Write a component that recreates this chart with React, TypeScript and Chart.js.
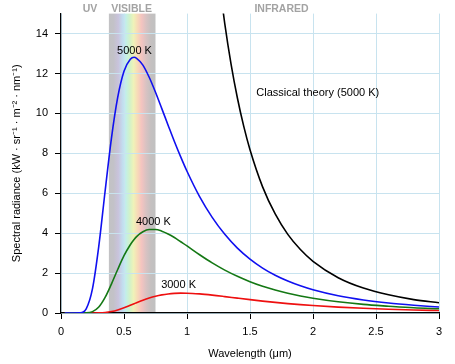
import React, { useEffect, useRef } from "react";
import { Chart, registerables } from "chart.js";

Chart.register(...registerables);

// Wavelength samples (µm) shared by the three black-body curves
const WAVELENGTHS = [
  0.03, 0.05, 0.1, 0.15, 0.2, 0.25, 0.3, 0.35, 0.4, 0.45, 0.5, 0.55, 0.58, 0.6,
  0.65, 0.7, 0.75, 0.8, 0.85, 0.9, 0.95, 1.0, 1.1, 1.2, 1.3, 1.4, 1.5, 1.6, 1.7,
  1.8, 1.9, 2.0, 2.2, 2.4, 2.6, 2.8, 3.0,
];

// Spectral radiance (kW · sr⁻¹ · m⁻² · nm⁻¹)
const RADIANCE_5000K = [
  0, 0, 0, 0.007, 0.21, 1.22, 3.35, 6.1, 8.74, 10.8, 12.11, 12.71, 12.81, 12.76,
  12.42, 11.81, 11.06, 10.24, 9.41, 8.59, 7.82, 7.1, 5.83, 4.79, 3.94, 3.25, 2.7,
  2.25, 1.89, 1.6, 1.36, 1.16, 0.86, 0.65, 0.5, 0.39, 0.3,
];
const RADIANCE_4000K = [
  0, 0, 0, 0, 0.006, 0.069, 0.3, 0.78, 1.45, 2.18, 2.87, 3.42, 3.68, 3.83, 4.07,
  4.18, 4.18, 4.1, 3.96, 3.78, 3.57, 3.36, 2.92, 2.51, 2.15, 1.84, 1.57, 1.34,
  1.15, 0.99, 0.85, 0.74, 0.56, 0.43, 0.34, 0.26, 0.21,
];
const RADIANCE_3000K = [
  0, 0, 0, 0, 0, 0.0006, 0.0056, 0.025, 0.072, 0.152, 0.26, 0.387, 0.465, 0.517,
  0.642, 0.751, 0.84, 0.908, 0.955, 0.983, 0.994, 0.992, 0.957, 0.896, 0.822,
  0.744, 0.668, 0.597, 0.531, 0.472, 0.419, 0.372, 0.295, 0.235, 0.188, 0.152,
  0.124,
];

// Classical (Rayleigh–Jeans) theory at 5000 K
const CLASSICAL_WAVELENGTHS = [
  1.25, 1.3, 1.35, 1.4, 1.45, 1.5, 1.6, 1.7, 1.8, 1.9, 2.0, 2.2, 2.4, 2.6, 2.8, 3.0,
];
const CLASSICAL_5000K = [
  16.95, 14.49, 12.46, 10.77, 9.36, 8.18, 6.32, 4.96, 3.94, 3.18, 2.59, 1.77,
  1.25, 0.91, 0.67, 0.51,
];

const X_TICKS = [0, 0.5, 1, 1.5, 2, 2.5, 3];
const X_TICK_LABELS = ["0", "0.5", "1", "1.5", "2", "2.5", "3"];
const Y_TICKS = [0, 2, 4, 6, 8, 10, 12, 14];
const Y_TICK_LABELS = ["0", "2", "4", "6", "8", "10", "12", "14"];

const VISIBLE_RANGE = [0.38, 0.75];

const REGION_NAMES = ["UV", "VISIBLE", "INFRARED"];
const REGION_LABEL_X = [0.23, 0.56, 1.75];

const CURVE_LABELS = ["5000 K", "4000 K", "3000 K", "Classical theory (5000 K)"];
const CURVE_LABEL_X = [0.583, 0.733, 0.933, 1.55];
const CURVE_LABEL_Y = [13.15, 4.55, 1.4, 11.03];
const CURVE_LABEL_ALIGN = ["center", "center", "center", "left"];

const FONT = "'Liberation Sans', Arial, sans-serif";

const toPoints = (xs: number[], ys: number[]) => xs.map((x, i) => ({ x, y: ys[i] }));

const decorPlugin = {
  id: "decor",
  beforeDraw(chart: any) {
    const { ctx, chartArea, scales } = chart;
    const x0 = scales.x.getPixelForValue(VISIBLE_RANGE[0]);
    const x1 = scales.x.getPixelForValue(VISIBLE_RANGE[1]);
    const g = ctx.createLinearGradient(x0, 0, x1, 0);
    g.addColorStop(0, "#c2c2c4");
    g.addColorStop(0.1, "#c3c2c8");
    g.addColorStop(0.2, "#c9c3dc");
    g.addColorStop(0.3, "#c2def0");
    g.addColorStop(0.36, "#c2eeea");
    g.addColorStop(0.45, "#d2f2c8");
    g.addColorStop(0.53, "#eff2b8");
    g.addColorStop(0.61, "#f7dbb8");
    g.addColorStop(0.7, "#f4c4c0");
    g.addColorStop(0.8, "#d8c2c2");
    g.addColorStop(0.9, "#c4c0c0");
    g.addColorStop(1, "#c0c0c0");
    ctx.save();
    ctx.fillStyle = g;
    ctx.fillRect(x0, chartArea.top, x1 - x0, chartArea.bottom - chartArea.top);
    ctx.restore();
  },
  afterDraw(chart: any) {
    const { ctx, chartArea, scales } = chart;
    ctx.save();
    ctx.font = `bold 10.5px ${FONT}`;
    ctx.fillStyle = "#a3a3a3";
    ctx.textAlign = "center";
    ctx.textBaseline = "alphabetic";
    REGION_NAMES.forEach((t, i) => {
      ctx.fillText(t, scales.x.getPixelForValue(REGION_LABEL_X[i]), chartArea.top - 1.5);
    });
    ctx.font = `11px ${FONT}`;
    ctx.fillStyle = "#000";
    ctx.textBaseline = "middle";
    CURVE_LABELS.forEach((t, i) => {
      ctx.textAlign = CURVE_LABEL_ALIGN[i] as CanvasTextAlign;
      ctx.fillText(
        t,
        scales.x.getPixelForValue(CURVE_LABEL_X[i]),
        scales.y.getPixelForValue(CURVE_LABEL_Y[i])
      );
    });
    ctx.restore();
  },
};

export default function App() {
  const canvasRef = useRef<HTMLCanvasElement | null>(null);

  useEffect(() => {
    document.body.style.margin = "0";
    const canvas = canvasRef.current;
    if (!canvas) return;
    const lineOpts = {
      borderWidth: 1.6,
      pointRadius: 0,
      cubicInterpolationMode: "monotone" as const,
      fill: false,
    };
    const chart = new Chart(canvas, {
      type: "line",
      data: {
        datasets: [
          { ...lineOpts, label: "5000 K", data: toPoints(WAVELENGTHS, RADIANCE_5000K), borderColor: "#1010f0" },
          { ...lineOpts, label: "Classical", data: toPoints(CLASSICAL_WAVELENGTHS, CLASSICAL_5000K), borderColor: "#000000" },
          { ...lineOpts, label: "4000 K", data: toPoints(WAVELENGTHS, RADIANCE_4000K), borderColor: "#147814" },
          { ...lineOpts, label: "3000 K", data: toPoints(WAVELENGTHS, RADIANCE_3000K), borderColor: "#ee1010" },
        ],
      },
      options: {
        animation: false,
        responsive: false,
        devicePixelRatio: 1,
        layout: { padding: { top: 13, right: 16, left: 0, bottom: 0 } },
        plugins: { legend: { display: false }, tooltip: { enabled: false } },
        scales: {
          x: {
            type: "linear",
            min: 0,
            max: 3,
            afterFit(scale: any) {
              scale.height = 51;
            },
            afterBuildTicks(scale: any) {
              scale.ticks = X_TICKS.map((v) => ({ value: v }));
            },
            ticks: {
              padding: 6,
              color: "#000",
              font: { family: FONT, size: 11 },
              maxRotation: 0,
              callback: (_v: any, i: number) => X_TICK_LABELS[i],
            },
            grid: { color: "#c8e3ef", tickColor: "#000", tickLength: 6, lineWidth: 1 },
            border: { display: true, color: "#000", width: 1.2 },
            title: {
              display: true,
              text: "Wavelength (μm)",
              color: "#000",
              font: { family: FONT, size: 11 },
              padding: { top: 0, bottom: 3 },
            },
          },
          y: {
            type: "linear",
            min: 0,
            max: 15,
            afterFit(scale: any) {
              scale.width = 61;
            },
            afterBuildTicks(scale: any) {
              scale.ticks = Y_TICKS.map((v) => ({ value: v }));
            },
            ticks: {
              padding: 7,
              color: "#000",
              font: { family: FONT, size: 11 },
              callback: (_v: any, i: number) => Y_TICK_LABELS[i],
            },
            grid: { color: "#c8e3ef", tickColor: "#000", tickLength: 6, lineWidth: 1 },
            border: { display: true, color: "#000", width: 1.2 },
            title: {
              display: true,
              text: "Spectral radiance (kW · sr⁻¹ · m⁻² · nm⁻¹)",
              color: "#000",
              font: { family: FONT, size: 11 },
              padding: { top: 10, bottom: 0 },
            },
          },
        },
      },
      plugins: [decorPlugin],
    });
    return () => chart.destroy();
  }, []);

  return (
    <div style={{ width: 455, height: 364 }}>
      <canvas ref={canvasRef} width={455} height={364} style={{ display: "block" }} />
    </div>
  );
}
